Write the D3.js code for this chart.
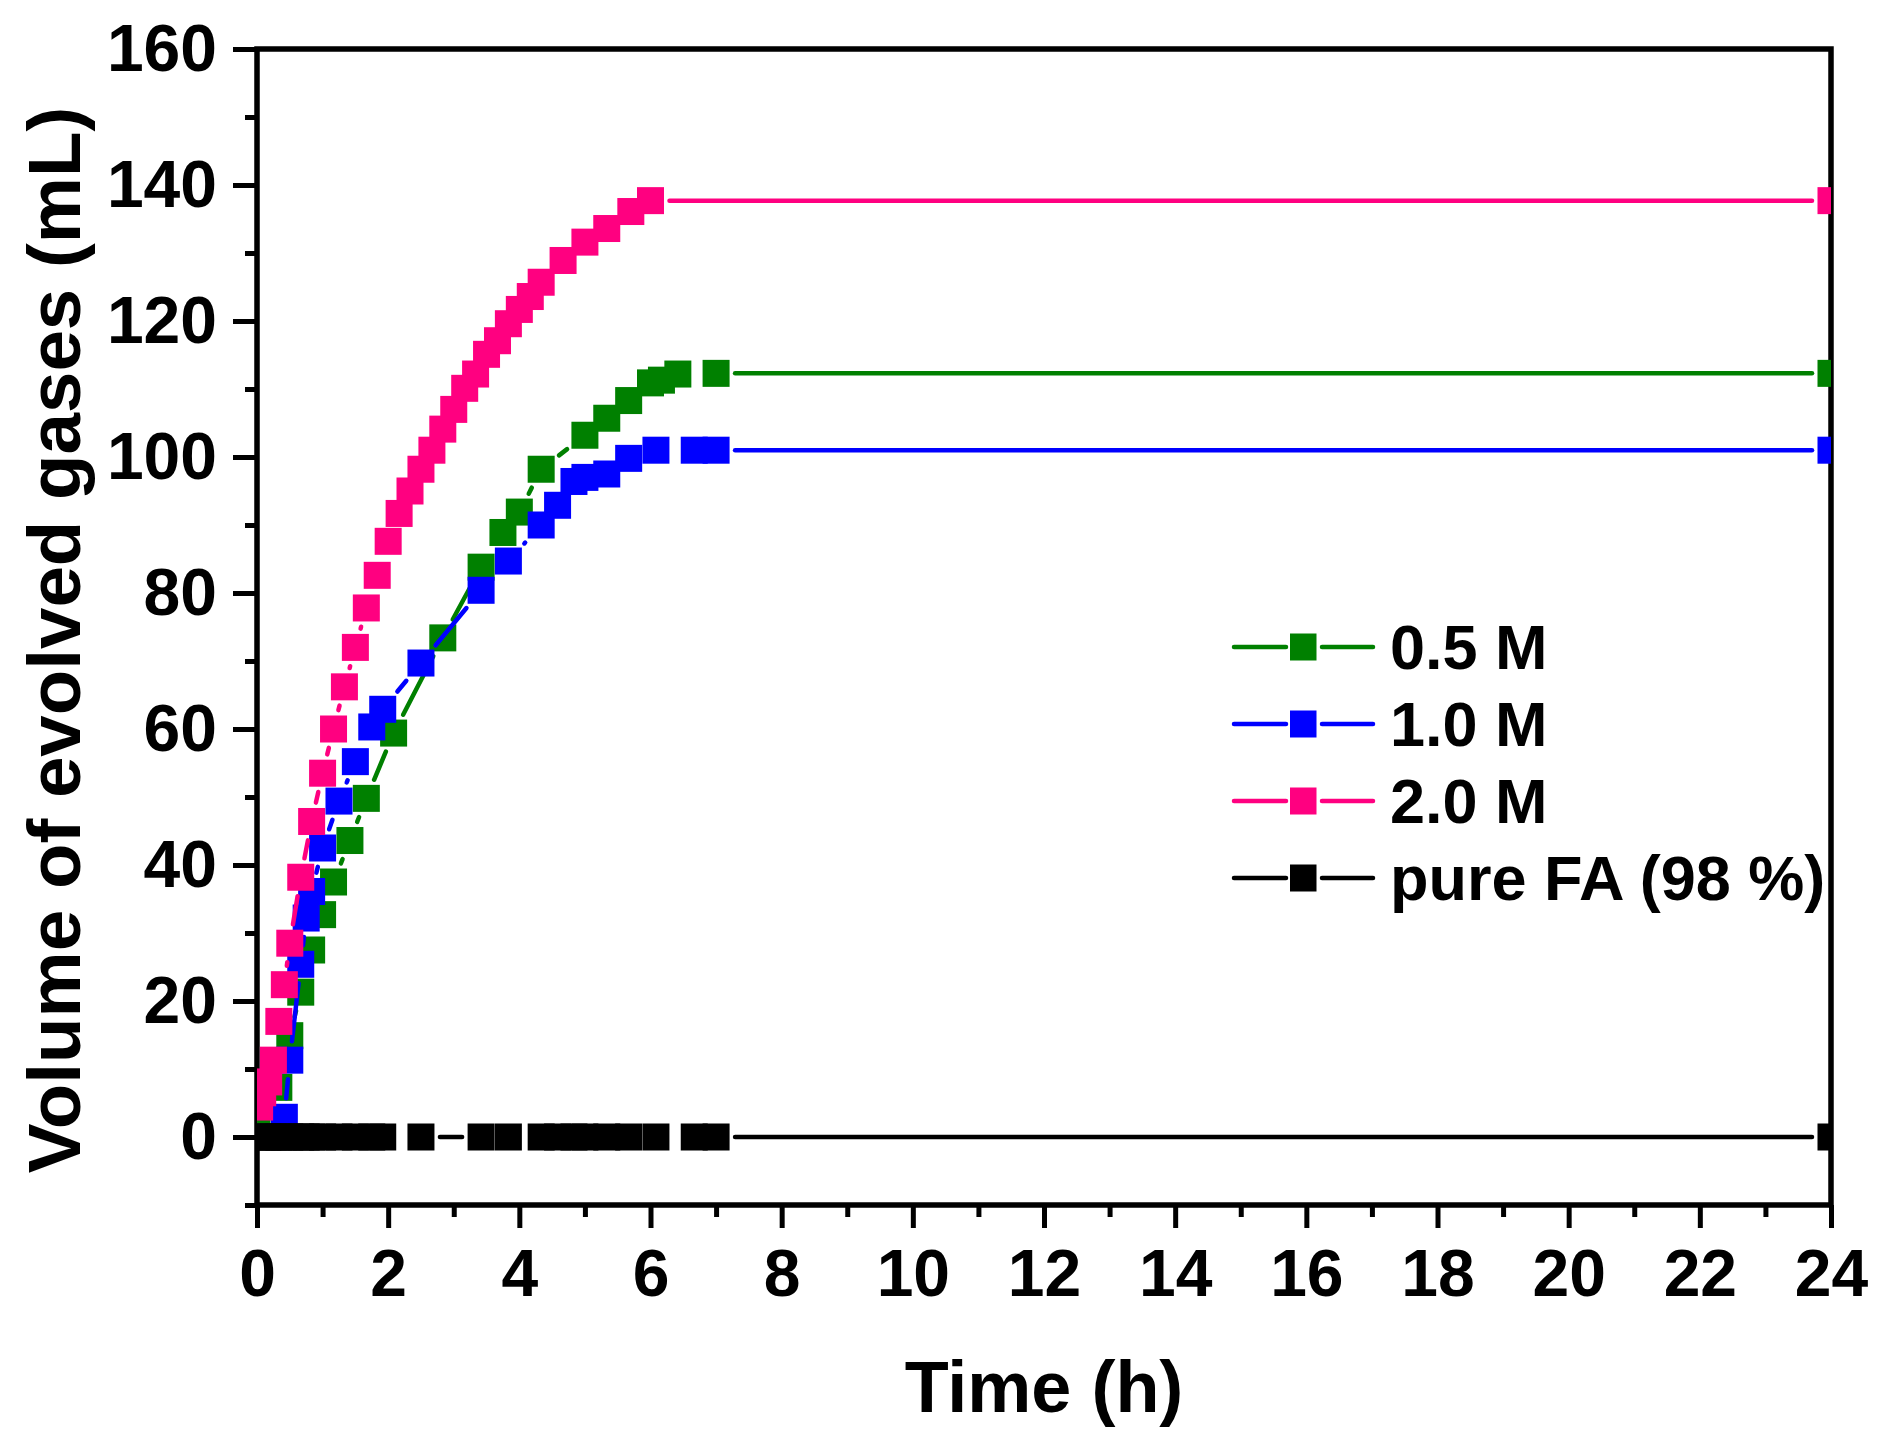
<!DOCTYPE html>
<html>
<head>
<meta charset="utf-8">
<script src="https://cdn.jsdelivr.net/npm/d3@7"></script>
<style>
  body { margin: 0; background: #fff; }
  svg text { font-family: 'Liberation Sans', Arial, sans-serif; font-weight: bold; fill: #000; }
</style>
</head>
<body>
<svg id="chart" width="1889" height="1440"></svg>
<script>
// ticks
var xTicks = [0, 2, 4, 6, 8, 10, 12, 14, 16, 18, 20, 22, 24];
var xMinor = [1, 3, 5, 7, 9, 11, 13, 15, 17, 19, 21, 23];
var yTicks = [0, 20, 40, 60, 80, 100, 120, 140, 160];
var yMinor = [-10, 10, 30, 50, 70, 90, 110, 130, 150];

var seriesNames = ['0.5 M', '1.0 M', '2.0 M', 'pure FA (98 %)'];
var seriesColors = ['#008000', '#0000ff', '#ff0080', '#000000'];

// 0.5 M
var t05 = [0, 0.333, 0.5, 0.667, 0.833, 1.0, 1.167, 1.417, 1.667, 2.083, 2.833, 3.417, 3.75, 4.0,
  4.333, 5.0, 5.333, 5.667, 6.0, 6.167, 6.417, 7.0, 24];
var v05 = [2, 7.3, 14.9, 21.3, 27.5, 32.7, 37.5, 43.6, 49.8, 59.4, 73.4, 83.8, 88.9, 91.9,
  98.2, 103.2, 105.7, 108.3, 110.9, 111.3, 112.2, 112.3, 112.3];

// 1.0 M
var t10 = [0.417, 0.5, 0.667, 0.75, 0.833, 1.0, 1.25, 1.5, 1.75, 1.917, 2.5, 3.417, 3.833, 4.333,
  4.583, 4.833, 5.0, 5.333, 5.667, 6.083, 6.667, 7.0, 24];
var v10 = [2.9, 11.3, 25.4, 32.2, 36.1, 42.5, 49.4, 55.2, 60.3, 62.9, 69.7, 80.4, 84.7, 90.0,
  92.9, 96.4, 97.0, 97.5, 99.8, 101.0, 101.0, 101.0, 101.0];

// 2.0 M
var t20 = [0.04, 0.087, 0.178, 0.25, 0.333, 0.417, 0.5, 0.667, 0.833, 1.0, 1.167, 1.333, 1.5, 1.667,
  1.833, 2.0, 2.167, 2.333, 2.5, 2.667, 2.833, 3.0, 3.167, 3.333, 3.5, 3.667, 3.833, 4.0, 4.167,
  4.333, 4.667, 5.0, 5.333, 5.7, 6.0, 24];
var v20 = [4.4, 6.5, 8.1, 11.3, 17.0, 22.4, 28.5, 38.2, 46.4, 53.5, 60.0, 66.2, 72.0, 77.8,
  82.6, 87.6, 91.7, 95.0, 98.2, 101.0, 104.1, 107.0, 110.1, 112.2, 115.1, 117.1, 119.6, 121.7, 123.6,
  125.7, 128.9, 131.6, 133.6, 136.1, 137.7, 137.7];

// pure FA
var tFA = [0, 0.083, 0.167, 0.25, 0.333, 0.417, 0.5, 0.667, 0.75, 0.833, 1.0, 1.25, 1.5, 1.75,
  1.917, 2.5, 3.417, 3.833, 4.333, 4.583, 4.833, 5.0, 5.333, 5.667, 6.083, 6.667, 7.0, 24];
var vFA = [0, 0, 0, 0, 0, 0, 0, 0, 0, 0, 0, 0, 0, 0,
  0, 0, 0, 0, 0, 0, 0, 0, 0, 0, 0, 0, 0, 0];

var seriesT = [t05, t10, t20, tFA];
var seriesV = [v05, v10, v20, vFA];

var plotLeft = 257, plotRight = 1831, plotTop = 49, plotBottom = 1205;
var markerSize = 27;
var symbolGap = 5.5;

var svg = d3.select('#chart');
svg.append('rect').attr('width', 1889).attr('height', 1440).attr('fill', '#fff');

var x = d3.scaleLinear().domain([0, 24]).range([plotLeft, plotRight]);
var y = d3.scaleLinear().domain([-10, 160]).range([plotBottom, plotTop]);

function styleAxis(g, size) {
  g.select('.domain').remove();
  g.selectAll('.tick line').attr('stroke-width', 5);
  g.selectAll('.tick text').attr('font-size', size);
}

// axes
svg.append('g')
  .attr('transform', `translate(0,${plotBottom})`)
  .call(d3.axisBottom(x).tickValues(xMinor).tickSize(12).tickFormat(''))
  .call(g => styleAxis(g, 66));
svg.append('g')
  .attr('transform', `translate(0,${plotBottom})`)
  .call(d3.axisBottom(x).tickValues(xTicks).tickSize(23).tickPadding(21).tickFormat(d3.format('d')))
  .call(g => styleAxis(g, 66));
svg.append('g')
  .attr('transform', `translate(${plotLeft},0)`)
  .call(d3.axisLeft(y).tickValues(yMinor).tickSize(12).tickFormat(''))
  .call(g => styleAxis(g, 66));
svg.append('g')
  .attr('transform', `translate(${plotLeft},0)`)
  .call(d3.axisLeft(y).tickValues(yTicks).tickSize(24).tickPadding(16).tickFormat(d3.format('d')))
  .call(g => styleAxis(g, 66));

svg.append('rect')
  .attr('x', plotLeft).attr('y', plotTop)
  .attr('width', plotRight - plotLeft).attr('height', plotBottom - plotTop)
  .attr('fill', 'none').attr('stroke', '#000').attr('stroke-width', 5.5);

// axis titles
svg.append('text')
  .attr('transform', 'translate(80,640) rotate(-90)')
  .attr('text-anchor', 'middle')
  .attr('font-size', 74.5)
  .text('Volume of evolved gases (mL)');
svg.append('text')
  .attr('x', (plotLeft + plotRight) / 2).attr('y', 1412)
  .attr('text-anchor', 'middle')
  .attr('font-size', 72)
  .text('Time (h)');

// data
svg.append('clipPath').attr('id', 'plotClip')
  .append('rect')
  .attr('x', plotLeft).attr('y', plotTop)
  .attr('width', plotRight - plotLeft).attr('height', plotBottom - plotTop);

var plot = svg.append('g').attr('clip-path', 'url(#plotClip)');

// line pieces between symbols, leaving a gap around each square
function gappedSegments(pts) {
  var segs = [];
  for (let k = 0; k < pts.length - 1; k++) {
    var p = pts[k], q = pts[k + 1];
    var dx = q[0] - p[0], dy = q[1] - p[1];
    var len = Math.sqrt(dx * dx + dy * dy);
    if (len === 0) continue;
    var ux = dx / len, uy = dy / len;
    var cut = markerSize / 2 / Math.max(Math.abs(ux), Math.abs(uy)) + symbolGap;
    if (len - 2 * cut < 1) continue;
    segs.push({
      x1: p[0] + ux * cut, y1: p[1] + uy * cut,
      x2: q[0] - ux * cut, y2: q[1] - uy * cut,
    });
  }
  return segs;
}

seriesNames.forEach((name, i) => {
  var pts = seriesT[i].map((t, j) => {
    return [x(t), y(seriesV[i][j])];
  });
  var g = plot.append('g');
  g.selectAll('line')
    .data(gappedSegments(pts))
    .enter()
    .append('line')
    .attr('x1', d => d.x1).attr('y1', d => d.y1)
    .attr('x2', d => d.x2).attr('y2', d => d.y2)
    .attr('stroke', seriesColors[i])
    .attr('stroke-width', 4.5)
    .attr('stroke-linecap', 'round');
  g.selectAll('rect')
    .data(pts)
    .enter()
    .append('rect')
    .attr('x', d => d[0] - markerSize / 2)
    .attr('y', d => d[1] - markerSize / 2)
    .attr('width', markerSize)
    .attr('height', markerSize)
    .attr('fill', seriesColors[i]);
});

// legend
var legend = svg.append('g')
  .selectAll('g')
  .data(seriesNames)
  .enter()
  .append('g')
  .attr('transform', (d, i) => `translate(0,${647 + i * 77})`);
legend.append('line')
  .attr('x1', 1234).attr('x2', 1286).attr('y1', 0).attr('y2', 0)
  .attr('stroke', (d, i) => seriesColors[i]).attr('stroke-width', 4.5)
  .attr('stroke-linecap', 'round');
legend.append('line')
  .attr('x1', 1322).attr('x2', 1373).attr('y1', 0).attr('y2', 0)
  .attr('stroke', (d, i) => seriesColors[i]).attr('stroke-width', 4.5)
  .attr('stroke-linecap', 'round');
legend.append('rect')
  .attr('x', 1290).attr('y', -13.5)
  .attr('width', 26.5).attr('height', 27)
  .attr('fill', (d, i) => seriesColors[i]);
legend.append('text')
  .attr('x', 1390).attr('y', 22)
  .attr('font-size', 63)
  .text(d => d);
</script>
</body>
</html>
